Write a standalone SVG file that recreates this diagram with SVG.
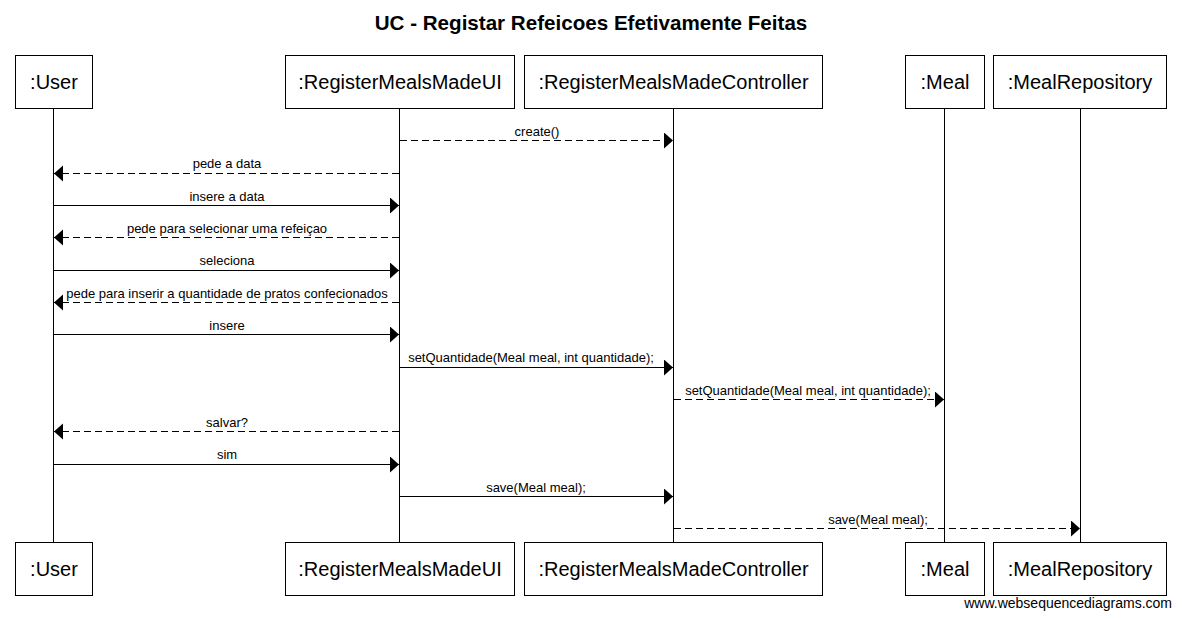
<svg xmlns="http://www.w3.org/2000/svg" width="1182" height="619" viewBox="0 0 1182 619">
<style>
text{font-family:"Liberation Sans",Arial,sans-serif;fill:#000}
.box{fill:#fff;stroke:#000;stroke-width:1}
.bt{font-size:20px;text-anchor:middle}
.life{stroke:#000;stroke-width:1}
.msg{stroke:#000;stroke-width:1;fill:none;marker-end:url(#ah)}
.dash{stroke-dasharray:7,4}
.ml{font-size:13px;text-anchor:middle}
</style>
<defs>
<marker id="ah" markerUnits="userSpaceOnUse" markerWidth="10" markerHeight="18" refX="9" refY="8" orient="auto">
<path d="M0,0 L9,8 L0,16 Z" fill="#000"/>
</marker>
</defs>
<rect width="1182" height="619" fill="#fff"/>
<text x="591" y="30" font-size="20.6" font-weight="bold" text-anchor="middle">UC - Registar Refeicoes Efetivamente Feitas</text>
<g id="lifelines">
<line class="life" x1="53.5" y1="108" x2="53.5" y2="542"/>
<line class="life" x1="399.5" y1="108" x2="399.5" y2="542"/>
<line class="life" x1="673.5" y1="108" x2="673.5" y2="542"/>
<line class="life" x1="944.5" y1="108" x2="944.5" y2="542"/>
<line class="life" x1="1080.5" y1="108" x2="1080.5" y2="542"/>
</g>
<g id="user">
<rect class="box" x="15.5" y="55.5" width="77" height="53"/>
<text class="bt" x="54" y="89">:User</text>
<rect class="box" x="15.5" y="542.5" width="77" height="53"/>
<text class="bt" x="54" y="576">:User</text>
</g>
<g id="ui">
<rect class="box" x="285.5" y="55.5" width="229" height="53"/>
<text class="bt" x="400" y="89">:RegisterMealsMadeUI</text>
<rect class="box" x="285.5" y="542.5" width="229" height="53"/>
<text class="bt" x="400" y="576">:RegisterMealsMadeUI</text>
</g>
<g id="controller">
<rect class="box" x="524.5" y="55.5" width="298" height="53"/>
<text class="bt" x="673.5" y="89">:RegisterMealsMadeController</text>
<rect class="box" x="524.5" y="542.5" width="298" height="53"/>
<text class="bt" x="673.5" y="576">:RegisterMealsMadeController</text>
</g>
<g id="meal">
<rect class="box" x="905.5" y="55.5" width="79" height="53"/>
<text class="bt" x="945" y="89">:Meal</text>
<rect class="box" x="905.5" y="542.5" width="79" height="53"/>
<text class="bt" x="945" y="576">:Meal</text>
</g>
<g id="mealrepo">
<rect class="box" x="993.5" y="55.5" width="173" height="53"/>
<text class="bt" x="1080" y="89">:MealRepository</text>
<rect class="box" x="993.5" y="542.5" width="173" height="53"/>
<text class="bt" x="1080" y="576">:MealRepository</text>
</g>
<g id="connectors">
<line class="msg dash" x1="400" y1="140.5" x2="673" y2="140.5"/>
<text class="ml" x="537" y="136">create()</text>
<line class="msg dash" x1="399" y1="173.5" x2="54" y2="173.5"/>
<text class="ml" x="227" y="168">pede a data</text>
<line class="msg" x1="54" y1="205.5" x2="399" y2="205.5"/>
<text class="ml" x="227" y="201">insere a data</text>
<line class="msg dash" x1="399" y1="237.5" x2="54" y2="237.5"/>
<text class="ml" x="227" y="233">pede para selecionar uma refeiçao</text>
<line class="msg" x1="54" y1="270.5" x2="399" y2="270.5"/>
<text class="ml" x="227" y="265">seleciona</text>
<line class="msg dash" x1="399" y1="302.5" x2="54" y2="302.5"/>
<text class="ml" x="227" y="298">pede para inserir a quantidade de pratos confecionados</text>
<line class="msg" x1="54" y1="334.5" x2="399" y2="334.5"/>
<text class="ml" x="227" y="330">insere</text>
<line class="msg" x1="400" y1="367.5" x2="673" y2="367.5"/>
<text class="ml" x="531" y="362">setQuantidade(Meal meal, int quantidade);</text>
<line class="msg dash" x1="674" y1="399.5" x2="944" y2="399.5"/>
<text class="ml" x="808" y="395">setQuantidade(Meal meal, int quantidade);</text>
<line class="msg dash" x1="399" y1="431.5" x2="54" y2="431.5"/>
<text class="ml" x="227" y="427">salvar?</text>
<line class="msg" x1="54" y1="464.5" x2="399" y2="464.5"/>
<text class="ml" x="227" y="459">sim</text>
<line class="msg" x1="400" y1="496.5" x2="673" y2="496.5"/>
<text class="ml" x="536" y="492">save(Meal meal);</text>
<line class="msg dash" x1="674" y1="528.5" x2="1080" y2="528.5"/>
<text class="ml" x="878" y="524">save(Meal meal);</text>
</g>
<text x="1172" y="608" font-size="14" text-anchor="end">www.websequencediagrams.com</text>
</svg>
